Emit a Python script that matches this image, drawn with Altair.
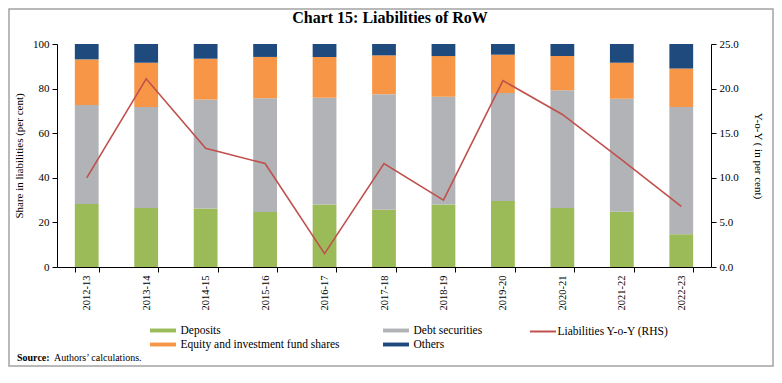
import altair as alt
import pandas as pd

years = ["2012-13", "2013-14", "2014-15", "2015-16", "2016-17", "2017-18",
         "2018-19", "2019-20", "2020-21", "2021-22", "2022-23"]
deposits = [28.3, 26.5, 26.2, 24.7, 28.0, 25.7, 28.0, 29.6, 26.5, 24.8, 14.7]
debt = [44.3, 45.2, 48.9, 51.0, 47.9, 51.8, 48.3, 48.4, 52.8, 50.6, 57.1]
equity = [20.5, 19.9, 18.3, 18.5, 18.3, 17.4, 18.3, 17.2, 15.3, 16.2, 17.2]
others = [6.9, 8.4, 6.6, 5.8, 5.8, 5.1, 5.4, 4.8, 5.4, 8.4, 11.0]
yoy = [10.0, 21.1, 13.3, 11.6, 1.5, 11.6, 7.5, 20.9, 17.1, 12.0, 6.8]

series_names = ["Deposits", "Debt securities", "Equity and investment fund shares", "Others"]
series_colors = ["#9BBB59", "#B2B3B6", "#F79646", "#1F4A7E"]
# legend lays items out column by column: this order gives rows
# "Deposits | Debt securities" and "Equity ... | Others"
legend_order = [0, 2, 1, 3]
line_name = "Liabilities Y-o-Y (RHS)"
line_color = "#C0504D"

title_text = ["Chart 15: Liabilities of RoW"]
left_title = "Share in liabilities (per cent)"
right_title = "Y-o-Y ( in per cent)"
source_label = ["Source:"]
source_text = ["Authors\u2019 calculations."]

FONT = "Liberation Serif"

rows = []
for i, yr in enumerate(years):
    for k, (name, vals) in enumerate(zip(series_names, [deposits, debt, equity, others])):
        rows.append({"year": yr, "series": name, "value": vals[i], "order": k})
bars_df = pd.DataFrame(rows)
line_df = pd.DataFrame({"year": years, "yoy": yoy, "series": [line_name] * len(years)})

xscale = alt.Scale(paddingInner=0.6, paddingOuter=0.3)
xaxis = alt.Axis(title=None, labelAngle=270, tickBand="extent", tickSize=5,
                 labelPadding=3, labelFontSize=10.5)

bars = alt.Chart(bars_df).mark_bar().encode(
    x=alt.X("year:N", sort=years, scale=xscale, axis=xaxis),
    y=alt.Y("value:Q", stack="zero", scale=alt.Scale(domain=[0, 100], nice=False),
            axis=alt.Axis(title=left_title, values=[0, 20, 40, 60, 80, 100],
                          tickSize=5, labelPadding=3, titlePadding=8)),
    color=alt.Color("series:N",
                    scale=alt.Scale(domain=[series_names[j] for j in legend_order],
                                    range=[series_colors[j] for j in legend_order]),
                    legend=alt.Legend(title=None, orient="none", legendX=93, legendY=280,
                                      columns=2, symbolType="M-2,-0.3L2,-0.3L2,0.3L-2,0.3Z",
                                      symbolSize=169, symbolOffset=6.5, labelOffset=11,
                                      columnPadding=43, rowPadding=2,
                                      symbolStrokeWidth=0)),
    order=alt.Order("order:Q"),
)

line = alt.Chart(line_df).mark_line(strokeWidth=1.6).encode(
    x=alt.X("year:N", sort=years, scale=xscale, axis=xaxis),
    y=alt.Y("yoy:Q", scale=alt.Scale(domain=[0, 25], nice=False),
            axis=alt.Axis(orient="right", title=right_title, format=".1f",
                          values=[0, 5, 10, 15, 20, 25], tickSize=5, labelPadding=3,
                          titlePadding=14)),
    color=alt.Color("series:N", scale=alt.Scale(domain=[line_name], range=[line_color]),
                    legend=alt.Legend(title=None, orient="none", legendX=472, legendY=280,
                                      symbolType="M-2,0L2,0", symbolSize=169,
                                      symbolOffset=6.5, labelOffset=7,
                                      symbolStrokeWidth=2)),
)

frame = alt.Chart(pd.DataFrame({"f": [0]})).mark_rect(
    fillOpacity=0, stroke="#A3A3A3", strokeWidth=1.5
).encode(x=alt.value(-48), x2=alt.value(716), y=alt.value(-35), y2=alt.value(322))

title = alt.Chart(pd.DataFrame({"t": title_text})).mark_text(
    align="center", baseline="middle", font=FONT, fontSize=16, fontWeight="bold", color="black"
).encode(x=alt.value(333), y=alt.value(-26), text="t:N")

src1 = alt.Chart(pd.DataFrame({"t": source_label})).mark_text(
    align="left", baseline="middle", font=FONT, fontSize=10, fontWeight="bold", color="black"
).encode(x=alt.value(-40), y=alt.value(314), text="t:N")
src2 = alt.Chart(pd.DataFrame({"t": source_text})).mark_text(
    align="left", baseline="middle", font=FONT, fontSize=10, color="black"
).encode(x=alt.value(-3), y=alt.value(314), text="t:N")

chart = alt.layer(frame, title, bars, line, src1, src2).resolve_scale(
    y="independent", color="independent"
).properties(
    width=654, height=223,
    autosize="none",
    padding={"left": 49, "top": 36, "right": 63, "bottom": 101},
).configure_view(stroke=None).configure_axis(
    labelFont=FONT, labelFontSize=11, labelColor="black",
    titleFont=FONT, titleFontSize=11, titleFontWeight="normal", titleColor="black",
    domainColor="black", tickColor="black", grid=False,
).configure_legend(
    labelFont=FONT, labelFontSize=11.5, labelColor="black",
)

chart.save("out.html", embed_options={"renderer": "svg", "actions": False})
